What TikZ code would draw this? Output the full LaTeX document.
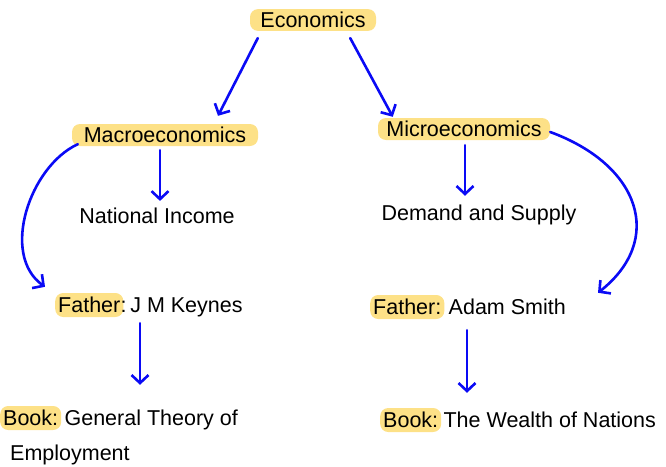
\documentclass[tikz,border=0pt]{standalone}
\usepackage{fontspec}
\setmainfont{Liberation Sans}
\usetikzlibrary{arrows.meta,calc}
\definecolor{hlyellow}{RGB}{253,225,135}
\definecolor{arrblue}{RGB}{10,10,245}
\begin{document}
\begin{tikzpicture}[x=1pt,y=-1pt,
  txt/.style={font=\fontsize{21.5}{25}\selectfont, inner sep=0pt},
  hlbox/.style={txt, fill=hlyellow, rounded corners=8pt, inner xsep=3pt, inner ysep=3pt},
  conn/.style={draw=arrblue, line width=2.6pt, line cap=round,
    -{Straight Barb[length=8pt,width=17pt,line width=2.6pt]}}]
\useasboundingbox (0,0) rectangle (666,466);
% top levels
\node[hlbox, minimum width=126pt, minimum height=21pt] (eco) at (313,20) {Economics};
\node[hlbox, minimum width=186pt, minimum height=22pt] (mac) at (165,135) {Macroeconomics};
\node[hlbox, minimum width=172pt, minimum height=22pt] (mic) at (464,129) {Microeconomics};
\node[txt] (ni) at (157,216) {National Income};
\node[txt] (ds) at (479,215) {Demand and Supply};
% fathers
\node[hlbox, anchor=west, minimum height=24pt] (fkh) at (55,305) {Father};
\node[txt, anchor=base west] (fk) at ($(fkh.base east)+(-3,0)$) {:\,J M Keynes};
\node[hlbox, anchor=west, minimum height=24pt] (fah) at (370,307) {Father:};
\node[txt, anchor=base west] (fa) at ($(fah.base east)+(4,0)$) {Adam Smith};
% books
\node[hlbox, anchor=west, minimum height=24pt] (bgh) at (0,418) {Book:};
\node[txt, anchor=base west] (bg) at ($(bgh.base east)+(3,0)$) {General Theory of};
\node[txt, anchor=base west] (bg2) at (10,460) {Employment};
\node[hlbox, anchor=west, minimum height=24pt] (bwh) at (380,420) {Book:};
\node[txt, anchor=base west] (bw) at ($(bwh.base east)+(2,0)$) {The Wealth of Nations};
% connectors
\draw[conn] ($(eco.south west)+(8,7)$) -- ($(mac.north)+(53,-8)$);
\draw[conn] ($(eco.south east)+(-26,7)$) -- ($(mic.north west)+(15,-1)$);
\draw[conn] ($(mac.south)+(-5,4)$) -- ($(ni.north)+(3,-7)$);
\draw[conn] ($(mic.south)+(1,5)$) -- ($(ds.north)+(-14,-9)$);
\draw[conn] ($(mac.south west)+(6,-2)$) .. controls +(-48,22) and +(-45,-32) .. ($(fkh.north west)+(-10,-6)$);
\draw[conn] ($(mic.east)+(0,3)$) .. controls +(90,33) and +(67,-53) .. ($(fah.north west)+(228,-2)$);
\coordinate (k1) at ($(fkh.south west)+(85,6)$);
\draw[conn] (k1) -- ($(k1 |- bgh.north)+(0,-21)$);
\coordinate (a1) at ($(fah.south west)+(97,11)$);
\draw[conn] (a1) -- ($(a1 |- bwh.north)+(0,-15)$);
\end{tikzpicture}
\end{document}
